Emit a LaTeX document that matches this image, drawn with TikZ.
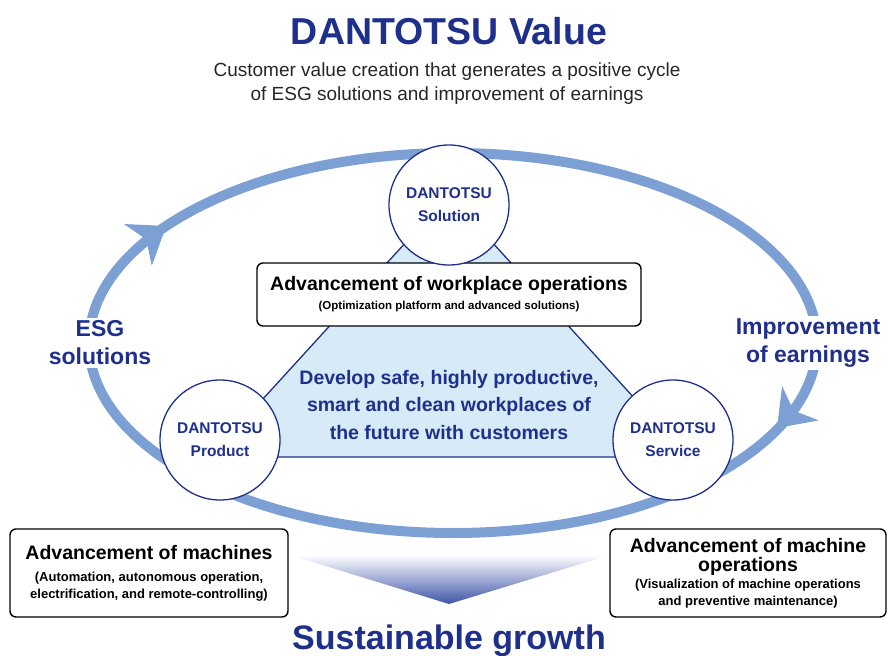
\documentclass[tikz,border=0pt]{standalone}
\usepackage{fontspec}
\setmainfont{Liberation Sans}
\usetikzlibrary{arrows.meta}
\definecolor{dnavy}{RGB}{30,48,140}
\definecolor{dband}{RGB}{125,160,212}
\definecolor{dtri}{RGB}{214,234,248}
\definecolor{dgrad}{RGB}{62,84,168}
\newcommand{\fsz}[2]{\fontsize{#1}{#2}\selectfont}
\begin{document}
\begin{tikzpicture}[x=1pt,y=-1pt,
  every node/.style={align=center,text=dnavy},
  hub/.style={draw=dnavy,line width=1.3pt,fill=white,circle,minimum size=120pt,inner sep=0pt,font=\fsz{15.5}{23}\bfseries},
  note/.style={draw=black,line width=1.4pt,rounded corners=6pt,fill=white,text=black,inner sep=0pt},
  tip/.style={dband,line width=1pt,-{Stealth[length=34pt,width=50pt,inset=10pt]}}]
\useasboundingbox (0,0) rectangle (890,655);

% the cycle
\draw[dband,line width=10pt] (453,343) ellipse [x radius=364pt,y radius=190pt];
\coordinate (esgback) at (136.2,246);
\coordinate (esgtip) at (166.2,226);
\coordinate (earnback) at (801.5,402);
\coordinate (earntip) at (777,428);
\draw[tip] (esgback) -- (esgtip);
\draw[tip] (earnback) -- (earntip);

% triangle of the three DANTOTSU
\coordinate (apex) at (449,195);
\coordinate (bleft) at (210,457);
\coordinate (bright) at (688,457);
\draw[dnavy,line width=1.3pt,fill=dtri] (apex) -- (bleft) -- (bright) -- cycle;
\node[font=\fsz{19.5}{27.5}\bfseries] (goal) at (449,405) {Develop safe, highly productive,\\smart and clean workplaces of\\the future with customers};

\node[note,minimum width=384pt,minimum height=63pt,font=\fsz{11.5}{14}\bfseries] (work) at (449,294.5)
  {{\fsz{19.5}{22}\bfseries Advancement of workplace operations}\\[5pt](Optimization platform and advanced solutions)};

\node[hub] (sol) at (449,205) {DANTOTSU\\Solution};
\node[hub] (prod) at (220,440) {DANTOTSU\\Product};
\node[hub] (serv) at (673,440) {DANTOTSU\\Service};

\node[fill=white,inner sep=3pt,font=\fsz{23}{28}\bfseries] (esg) at (100,343) {ESG\\solutions};
\node[fill=white,inner sep=3pt,font=\fsz{23}{28}\bfseries] (earn) at (808,343) {Improvement\\of earnings};

% headings
\node[font=\fsz{37.5}{40}\bfseries] (title) at (449,31) {DANTOTSU Value};
\node[font=\fsz{19}{24},text=black!85] (sub) at (447,84) {Customer value creation that generates a positive cycle\\of ESG solutions and improvement of earnings};

% the three fields
\node[note,minimum width=278pt,minimum height=88pt,font=\fsz{13}{17}\bfseries] (mach) at (149,573)
  {{\fsz{19.5}{22}\bfseries Advancement of machines}\\[5pt](Automation, autonomous operation,\\electrification, and remote-controlling)};
\node[note,minimum width=276pt,minimum height=88pt,font=\fsz{13}{17}\bfseries] (ops) at (748,573)
  {{\fsz{19.5}{22}\bfseries Advancement of machine}\\[2pt]{\fsz{19.5}{22}\bfseries operations}\\[0pt](Visualization of machine operations\\and preventive maintenance)};

% growth
\shade[top color=white,bottom color=dgrad] (290,555) -- (610,555) -- (449,604) -- cycle;
\node[font=\fsz{34}{40}\bfseries] (growth) at (449,641) {Sustainable growth};
\end{tikzpicture}
\end{document}
